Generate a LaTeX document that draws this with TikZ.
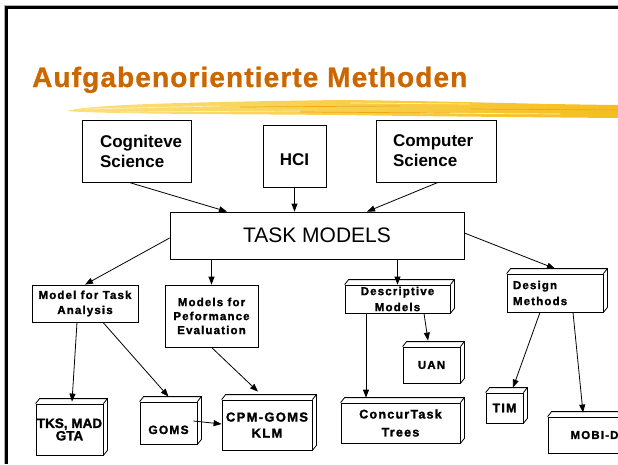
\documentclass[tikz,border=0pt]{standalone}
\usepackage{fontspec}
\setmainfont{Liberation Sans}
\newfontfamily\titlefont[LetterSpace=4,FakeBold=1]{Liberation Sans Bold}
\newfontfamily\tagfont[LetterSpace=10,FakeBold=1.6]{Liberation Sans Bold}
\newfontfamily\heavyfont[FakeBold=1.6]{Liberation Sans Bold}
\usetikzlibrary{arrows.meta,calc}

\definecolor{titleorange}{HTML}{CC6600}
\definecolor{brushgold}{HTML}{F5BE1E}
\definecolor{brushlight}{HTML}{FBE07A}
\definecolor{brushpale}{HTML}{FDF0B8}
\definecolor{brushdeep}{HTML}{EBA912}

\newcommand{\fs}[2]{\fontsize{#1}{#2}\selectfont}

% top and right faces of a solid box, drawn behind its front face
\newcommand{\extrude}[1]{%
  \draw[facet] (#1.north west) -- ++(4,-5) -- ([shift={(4pt,5pt)}]#1.north east)
    -- ([shift={(4pt,5pt)}]#1.south east) -- (#1.south east)
    (#1.north east) -- ++(4,-5);}

\tikzset{
  box/.style={draw, line width=0.8pt, inner sep=0pt, fill=white},
  topic/.style={box, font=\bfseries\fs{17}{20}},
  tagbox/.style={box, align=center},
  arr/.style={line width=0.8pt, -{Triangle[length=8pt,width=6pt]}},
  facet/.style={line width=0.8pt, line join=miter}
}

\begin{document}
\begin{tikzpicture}[x=1pt,y=-1pt]
\useasboundingbox (0,0) rectangle (618,464);

% slide frame
\draw[gray!60, line width=0.8pt] (4.5,464) -- (4.5,5) -- (618,5);
\draw[line width=2.5pt] (6.5,464) -- (6.5,7.5) -- (618,7.5);

% brush stroke under the heading
\shade[left color=brushlight, right color=brushgold]
  (67,111) .. controls (90,104) and (200,102) .. (340,100)
  .. controls (450,101) and (520,104) .. (618,105) -- (618,118)
  .. controls (500,117) and (400,116) .. (340,115)
  .. controls (220,114) and (100,114) .. (67,111) -- cycle;
\draw[brushpale, line width=0.7pt] (85,109) -- (220,106) (120,112) -- (300,111)
  (350,103) -- (470,104) (420,113) -- (560,114);
\draw[brushdeep, line width=0.7pt] (240,107) -- (400,106) (470,109) -- (618,110)
  (300,112) -- (450,113);

% heading
\node[anchor=base west, inner sep=0pt, text=titleorange,
      font=\titlefont\fs{28}{30}] (title) at (32,87)
  {Aufgabenorientierte Methoden};

% source disciplines
\node[topic, minimum width=109pt, minimum height=62pt, inner xsep=18pt,
      text width=73pt, align=left] (cog) at (136.5,151) {Cogniteve\\Science};
\node[topic, minimum width=63pt, minimum height=62pt,
      text height=18pt, text depth=0pt] (hci) at (294.5,156) {HCI};
\node[topic, minimum width=120pt, minimum height=62pt, inner xsep=17pt,
      text width=86pt, align=left] (cs) at (436,151) {Computer\\Science};

% central node
\node[box, minimum width=294pt, minimum height=47pt, font=\fs{21}{24}]
  (task) at (317,235.5) {TASK MODELS};

% second level
\node[tagbox, minimum width=106pt, minimum height=37pt,
      font=\tagfont\fs{11.5}{15}] (mta) at (85,303.5)
  {Model for Task\\Analysis};
\node[tagbox, minimum width=93pt, minimum height=62pt,
      font=\tagfont\fs{11.5}{14}] (mpe) at (211.5,316)
  {Models for\\Peformance\\Evaluation};
\node[tagbox, minimum width=105pt, minimum height=28pt,
      font=\tagfont\fs{11.5}{16}] (dm) at (397.5,299)
  {Descriptive\\Models};
\extrude{dm}
\node[box, minimum width=96pt, minimum height=38pt, inner xsep=6pt,
      text width=84pt, align=left, font=\tagfont\fs{11.5}{16}]
  (des) at (555,293) {Design\\Methods};
\extrude{des}

% methods and notations
\node[tagbox, minimum width=67pt, minimum height=51pt,
      font=\heavyfont\fs{13.5}{11}] (tks) at (69.5,429.5) {TKS, MAD\\GTA};
\extrude{tks}
\node[tagbox, minimum width=57pt, minimum height=42pt, text height=22pt,
      text depth=0pt, font=\tagfont\fs{12}{14}] (goms) at (168.5,423) {GOMS};
\extrude{goms}
\node[tagbox, minimum width=90pt, minimum height=50pt,
      font=\tagfont\fs{13}{16}] (cpm) at (267,425) {CPM-GOMS\\KLM};
\extrude{cpm}
\node[tagbox, minimum width=57pt, minimum height=36pt,
      font=\tagfont\fs{11.5}{14}] (uan) at (431.5,365) {UAN};
\extrude{uan}
\node[tagbox, minimum width=119pt, minimum height=40pt,
      font=\tagfont\fs{12.5}{18}] (ctt) at (400.5,423) {ConcurTask\\Trees};
\extrude{ctt}
\node[tagbox, minimum width=37pt, minimum height=30pt,
      font=\tagfont\fs{12.5}{14}] (tim) at (504.5,408) {TIM};
\extrude{tim}
\node[tagbox, minimum width=93pt, minimum height=36pt,
      font=\tagfont\fs{11.5}{14}] (mobi) at (594.5,435) {MOBI-D};
\extrude{mobi}

% connectors
\draw[arr] ([xshift=-7.5pt]cog.south) -- ([xshift=-90pt]task.north);
\draw[arr] (hci.south) -- (task.north -| hci.south);
\draw[arr] ([xshift=2pt]cs.south) -- ([xshift=50pt]task.north);

\draw[arr] ([yshift=-2.5pt]task.west) -- (mta.north);
\draw[arr] (task.south -| mpe.north) -- (mpe.north);
\draw[arr] (task.south -| dm.north) -- (dm.north);
\draw[arr] ([yshift=2.5pt]task.east) -- ([yshift=5pt]des.north);

\draw[arr] ([xshift=-8pt]mta.south) -- ([xshift=2.5pt,yshift=2pt]tks.north);
\draw[arr] ([xshift=18pt]mta.south) -- ([yshift=5pt]goms.north);
\draw[arr] (mpe.south) -- ([xshift=-9pt,yshift=8pt]cpm.north);
\draw[arr] ([xshift=-4pt,yshift=2pt]goms.east) -- ([yshift=1pt]cpm.west);

\draw[arr] ([xshift=26.5pt]dm.south) -- ([xshift=-3.5pt,yshift=6pt]uan.north);
\draw[arr] ([xshift=-31.5pt]dm.south) -- ([xshift=-34.5pt,yshift=5pt]ctt.north);

\draw[arr] ([xshift=-15pt]des.south) -- ([xshift=8.5pt,yshift=5pt]tim.north);
\draw[arr] ([xshift=18pt]des.south) -- ([xshift=-11.5pt,yshift=4pt]mobi.north);
\end{tikzpicture}
\end{document}
